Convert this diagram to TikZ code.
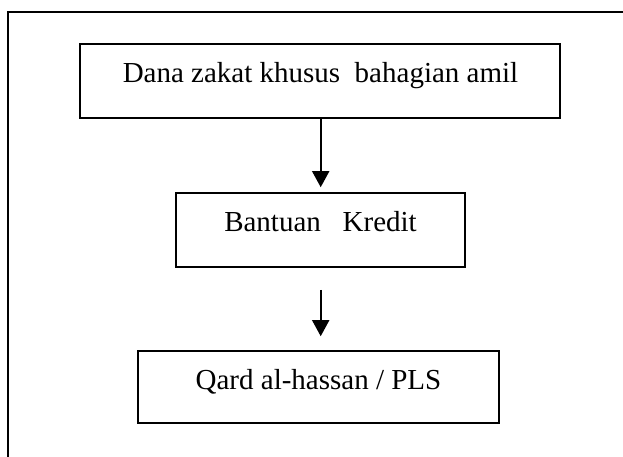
\documentclass[tikz,border=0pt]{standalone}
\usepackage{fontspec}
\setmainfont{Liberation Serif}
\usetikzlibrary{arrows.meta}
\begin{document}
\begin{tikzpicture}[x=1pt,y=-1pt,
  box/.style={draw, line width=1.6pt, inner sep=0pt, rectangle},
  txt/.style={anchor=base, inner sep=0pt, font=\fontsize{29}{34}\selectfont},
  arr/.style={line width=1.8pt, -{Triangle[width=17pt,length=16pt]}}]
\useasboundingbox (0,0) rectangle (623,457);
\clip (0,0) rectangle (623,457);
\draw[line width=1.6pt] (630,12) -- (8,12) -- (8,465);
\node[box, minimum width=480pt, minimum height=74pt] (b1) at (320,81) {};
\node[box, minimum width=289pt, minimum height=74pt] (b2) at (320.5,230) {};
\node[box, minimum width=361pt, minimum height=72pt] (b3) at (318.5,387) {};
\node[txt] (t1) at (320.5,82.3) {Dana zakat khusus~~bahagian amil};
\node[txt] (t2) at (320.5,231) {Bantuan~~~Kredit};
\node[txt] (t3) at (318.5,389.3) {Qard al-hassan / PLS};
\draw[arr, shorten >=5pt] (b1.south -| 320.7,0) -- (b2.north -| 320.7,0);
\draw[arr, shorten <=22pt, shorten >=14pt] (b2.south -| 320.7,0) -- (b3.north -| 320.7,0);
\end{tikzpicture}
\end{document}
